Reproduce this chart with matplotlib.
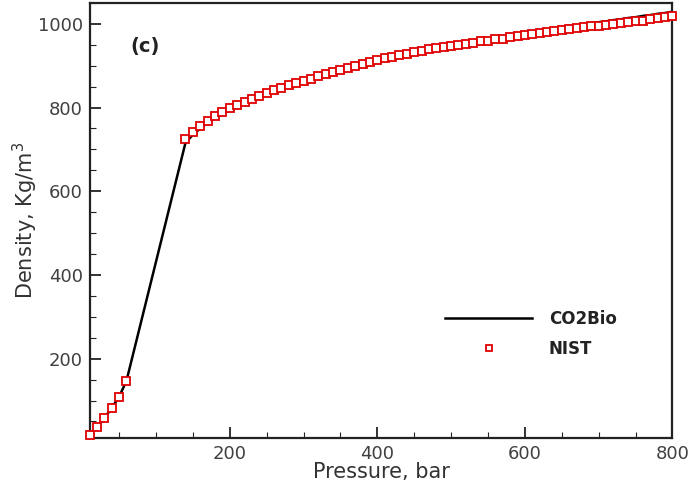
import matplotlib
matplotlib.use("Agg")
import matplotlib.pyplot as plt
from matplotlib.ticker import MultipleLocator

# ------------------- Data -------------------
# CO2 density vs pressure (bar), gap between 60 and 140 bar
pressure = [10, 20, 30, 40, 50, 60,
            140, 150, 160, 170, 180, 190, 200, 210, 220, 230,
            240, 250, 260, 270, 280, 290, 300, 310, 320, 330,
            340, 350, 360, 370, 380, 390, 400, 410, 420, 430,
            440, 450, 460, 470, 480, 490, 500, 510, 520, 530,
            540, 550, 560, 570, 580, 590, 600, 610, 620, 630,
            640, 650, 660, 670, 680, 690, 700, 710, 720, 730,
            740, 750, 760, 770, 780, 790, 800]

density_nist = [17, 36, 58, 82, 109, 147,
                725, 742, 756, 769, 779, 789, 798, 806, 814, 821,
                828, 835, 841, 847, 853, 858, 864, 869, 875, 880,
                886, 890, 895, 900, 905, 909, 914, 918, 922, 926,
                929, 933, 936, 939, 942, 944, 947, 950, 953, 955,
                958, 960, 963, 965, 968, 970, 973, 976, 978, 981,
                983, 986, 988, 990, 992, 994, 996, 998, 1000, 1002,
                1004, 1006, 1008, 1011, 1014, 1016, 1019]

density_co2bio = [17, 36, 58, 82, 109, 147,
                  716, 735, 750, 764, 775, 785, 794, 803, 811, 819,
                  826, 833, 840, 846, 852, 858, 864, 869, 875, 881,
                  887, 891, 896, 901, 906, 911, 916, 920, 924, 928,
                  932, 936, 939, 943, 946, 948, 951, 954, 957, 960,
                  963, 965, 968, 970, 973, 975, 978, 981, 983, 986,
                  989, 992, 994, 997, 999, 1002, 1004, 1006, 1009, 1011,
                  1014, 1016, 1019, 1021, 1024, 1026, 1029]

# ------------------- Plot -------------------
plt.rcParams['font.family'] = ['DejaVu Sans']

fig = plt.figure(figsize=(6.89, 4.88), dpi=100)
ax = fig.add_axes([0.130, 0.102, 0.846, 0.892])

ax.plot(pressure, density_co2bio, color='black', lw=1.8, label='CO2Bio', zorder=2)
ax.plot(pressure, density_nist, ls='none', marker='s', ms=6.3, mfc='white',
        mec='#e00000', mew=1.3, label='NIST', zorder=3, clip_on=False)

ax.set_xlim(10, 800)
ax.set_ylim(10, 1050)
ax.xaxis.set_major_locator(MultipleLocator(200))
ax.xaxis.set_minor_locator(MultipleLocator(50))
ax.yaxis.set_major_locator(MultipleLocator(200))
ax.yaxis.set_minor_locator(MultipleLocator(50))
ax.tick_params(which='both', direction='in', top=False, right=False,
               color='#222222', labelcolor='#404040', labelsize=13, pad=5)
ax.tick_params(which='major', length=8, width=1.3)
ax.tick_params(which='minor', length=4, width=0.8)

for s in ax.spines.values():
    s.set_linewidth(1.6)
    s.set_color('#222222')

ax.set_xlabel('Pressure, bar', fontsize=15, color='#333333', labelpad=-1)
ax.set_ylabel('Density, Kg/m$^3$', fontsize=15, color='#333333', labelpad=-1.5)

ax.text(0.07, 0.899, '(c)', transform=ax.transAxes, fontsize=14,
        fontweight='bold', color='#222222', va='center')

leg = ax.legend(loc='lower right', bbox_to_anchor=(0.93, 0.15), frameon=False,
                prop={'size': 12, 'weight': 'bold'}, handlelength=5.2,
                handletextpad=1.0, labelspacing=0.7, markerscale=0.6)
for t in leg.get_texts():
    t.set_color('#222222')

fig.savefig('out.png', dpi=100)
